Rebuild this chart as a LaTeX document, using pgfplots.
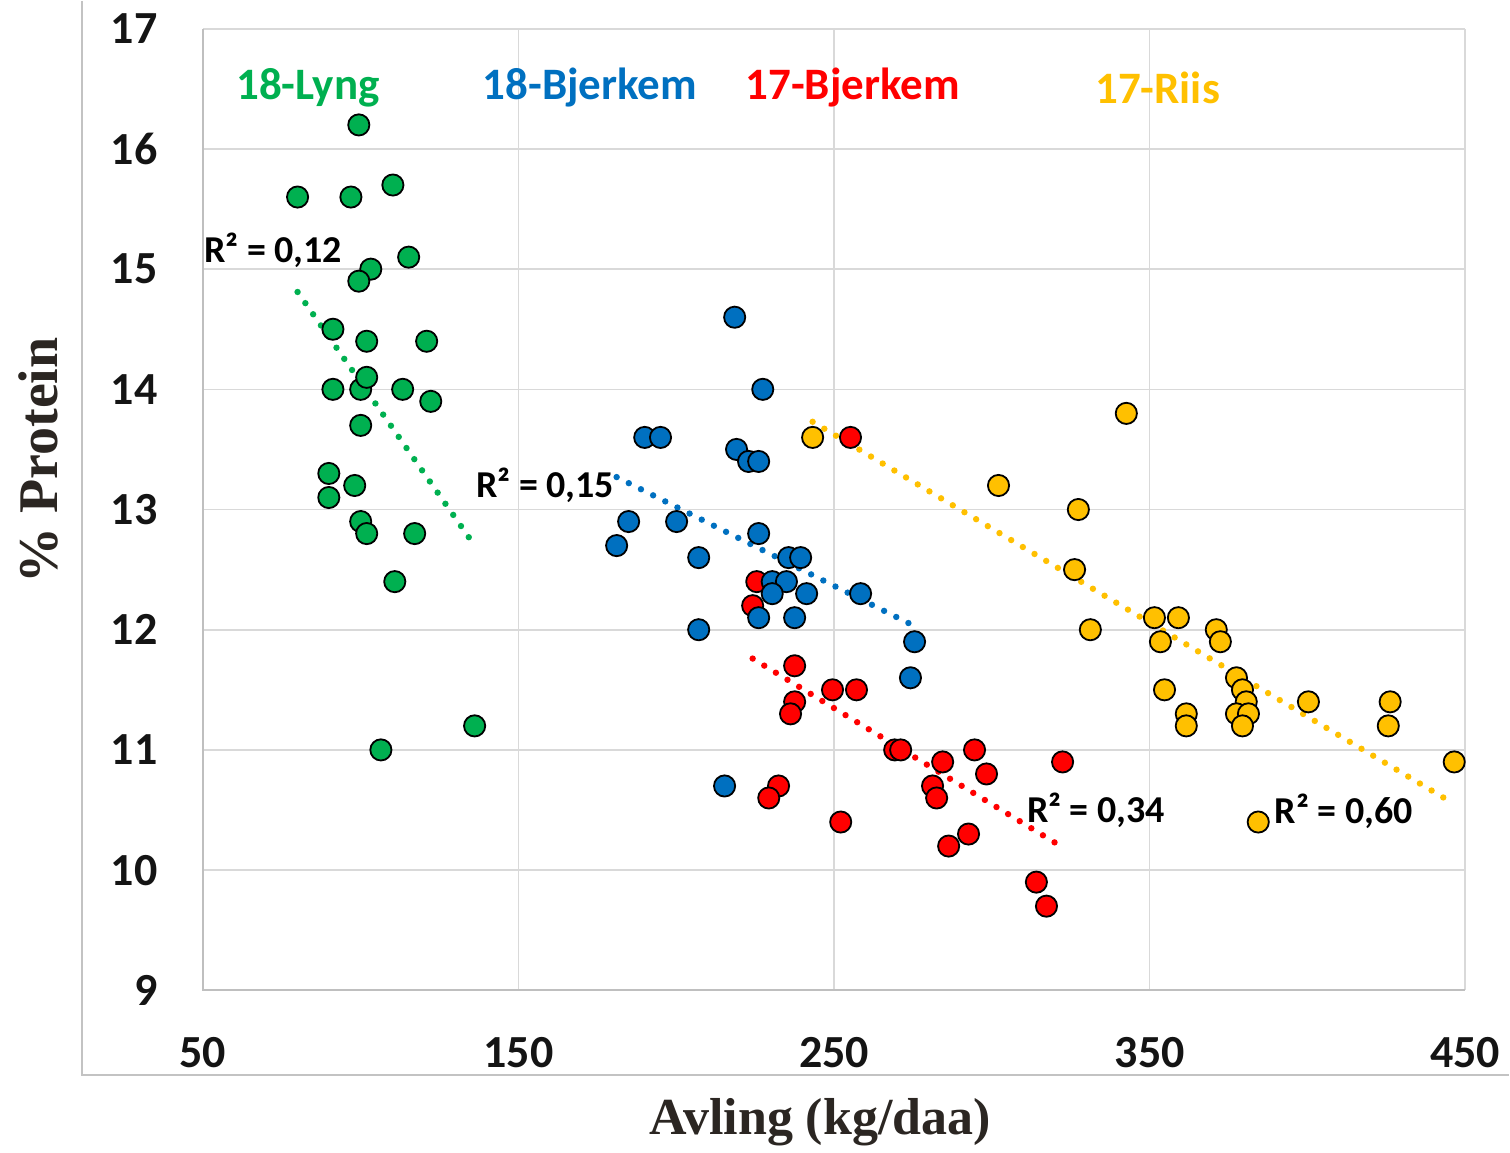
\documentclass[border=0pt]{standalone}
\usepackage{pgfplots}
\pgfplotsset{compat=1.18}
\usepackage{fontspec}
\setmainfont{Carlito}
\newfontfamily\serifbf{Liberation Serif}
\definecolor{cgreen}{HTML}{00B050}
\definecolor{cblue}{HTML}{0070C0}
\definecolor{cred}{HTML}{FF0000}
\definecolor{cyellow}{HTML}{FFC000}
\definecolor{gridgray}{HTML}{D9D9D9}
\definecolor{axisgray}{HTML}{BFBFBF}
\definecolor{labelgray}{HTML}{2B2622}

\pgfplotstableread{
x y
99.4 16.2
80 15.6
96.9 15.6
110.2 15.7
115.2 15.1
103.2 15.0
99.4 14.9
91.2 14.5
101.9 14.4
120.9 14.4
91.2 14.0
100 14.0
101.9 14.1
113.3 14.0
122.2 13.9
100 13.7
89.9 13.3
98.1 13.2
89.9 13.1
100 12.9
101.9 12.8
117.1 12.8
110.8 12.4
136.1 11.2
106.4 11.0
}\lyng

\pgfplotstableread{
x y
218.5 14.6
227.4 14.0
190 13.6
195 13.6
219.1 13.5
222.9 13.4
226.1 13.4
184.9 12.9
200.1 12.9
181.1 12.7
226.1 12.8
207.1 12.6
235.6 12.6
239.4 12.6
230.4 12.4
234.9 12.4
230.4 12.3
241.3 12.3
258.4 12.3
226.1 12.1
237.5 12.1
207.1 12.0
275.5 11.9
274.2 11.6
215.3 10.7
}\bjerkemB

\pgfplotstableread{
x y
255.2 13.6
225.5 12.4
224.2 12.2
237.5 11.7
237.5 11.4
236.2 11.3
249.5 11.5
257.1 11.5
269.2 11.0
271.1 11.0
284.4 10.9
294.5 11.0
298.3 10.8
281.2 10.7
282.5 10.6
232.4 10.7
229.3 10.6
252.1 10.4
292.6 10.3
286.3 10.2
322.4 10.9
314.1 9.9
317.3 9.7
}\bjerkemA

\pgfplotstableread{
x y
243.2 13.6
342.6 13.8
302.1 13.2
327.4 13.0
326.2 12.5
331.2 12.0
351.5 12.1
359.1 12.1
353.4 11.9
371.1 12.0
372.4 11.9
354.7 11.5
361.6 11.3
361.6 11.2
377.5 11.6
379.4 11.5
380.6 11.4
377.5 11.3
381.3 11.3
379.4 11.2
400.3 11.4
426.2 11.4
425.6 11.2
446.5 10.9
384.4 10.4
}\riis

\begin{document}
\begin{tikzpicture}
\begin{axis}[
  name=ax,
  scale only axis,
  width=631.5pt, height=481pt,
  xmin=50, xmax=450, ymin=9, ymax=17,
  xtick={50,150,250,350,450},
  ytick={9,10,11,12,13,14,15,16,17},
  grid=major,
  grid style={draw=gridgray, line width=0.8pt},
  axis line style={draw=none},
  major tick length=0pt,
  clip=false,
  /pgf/number format/assume math mode=true,
  tick label style={font=\fontsize{23}{27}\selectfont\bfseries, text=black!92},
  xticklabel style={anchor=center, yshift=-31pt},
  yticklabel style={anchor=east, inner sep=0pt, xshift=-22.5pt},
  xlabel={Avling (kg/daa)},
  ylabel={\% Protein},
  label style={font=\serifbf\bfseries\fontsize{26}{30}\selectfont, text=labelgray},
  xlabel style={at={(axis description cs:0.489,-0.137)}, anchor=center},
  ylabel style={at={(axis description cs:-0.1306,0.551)}, anchor=center, font=\serifbf\bfseries\fontsize{28}{32}\selectfont},
  mark size=5.3pt,
]
\addplot[only marks, mark=*, mark options={fill=cyellow, draw=black, line width=0.9pt}] table[x=x,y=y] {\riis};
\addplot[only marks, mark=*, mark options={fill=cred, draw=black, line width=0.9pt}] table[x=x,y=y] {\bjerkemA};
\addplot[only marks, mark=*, mark options={fill=cblue, draw=black, line width=0.9pt}] table[x=x,y=y] {\bjerkemB};
\addplot[only marks, mark=*, mark options={fill=cgreen, draw=black, line width=0.9pt}] table[x=x,y=y] {\lyng};

\addplot[cgreen, line width=3.2pt, line cap=round, dash pattern=on 0pt off 6.8pt] coordinates {(80,14.81) (136.1,12.70)};
\addplot[cblue, line width=3.2pt, line cap=round, dash pattern=on 0pt off 6.8pt] coordinates {(181.1,13.27) (275.5,12.03)};
\addplot[cred, line width=3.2pt, line cap=round, dash pattern=on 0pt off 6.8pt] coordinates {(224.2,11.76) (322.4,10.19)};
\addplot[cyellow, line width=3.2pt, line cap=round, dash pattern=on 0pt off 6.8pt] coordinates {(243.2,13.73) (446.5,10.55)};

\draw[axisgray, line width=1pt] (axis cs:50,17) -- (axis cs:50,9) -- (axis cs:450,9);

\node[text=cgreen, font=\fontsize{22.5}{27}\selectfont\bfseries] at (axis cs:83.3,16.51) {18-Lyng};
\node[text=cblue, font=\fontsize{22.5}{27}\selectfont\bfseries] at (axis cs:172.6,16.51) {18-Bjerkem};
\node[text=cred, font=\fontsize{22.5}{27}\selectfont\bfseries] at (axis cs:255.9,16.51) {17-Bjerkem};
\node[text=cyellow, font=\fontsize{22.5}{27}\selectfont\bfseries] at (axis cs:352.5,16.51) {17-Riis};

\node[anchor=west, inner sep=0pt, font=\fontsize{19}{23}\selectfont\bfseries] at (axis cs:50.3,15.16) {R² = 0,12};
\node[anchor=west, inner sep=0pt, font=\fontsize{19}{23}\selectfont\bfseries] at (axis cs:136.5,13.2) {R² = 0,15};
\node[anchor=west, inner sep=0pt, font=\fontsize{19}{23}\selectfont\bfseries] at (axis cs:311,10.5) {R² = 0,34};
\node[anchor=west, inner sep=0pt, font=\fontsize{19}{23}\selectfont\bfseries] at (axis cs:389.5,10.49) {R² = 0,60};

\draw[gridgray!90!black, line width=0.8pt] (axis description cs:-0.0958,1.0291) -- (axis description cs:-0.0958,-0.0884) -- (axis description cs:1.0348,-0.0884);
\end{axis}
\path[use as bounding box] ([xshift=-101.5pt,yshift=-81pt]ax.south west) rectangle ([xshift=653.5pt,yshift=495pt]ax.south west);
\end{tikzpicture}
\end{document}
